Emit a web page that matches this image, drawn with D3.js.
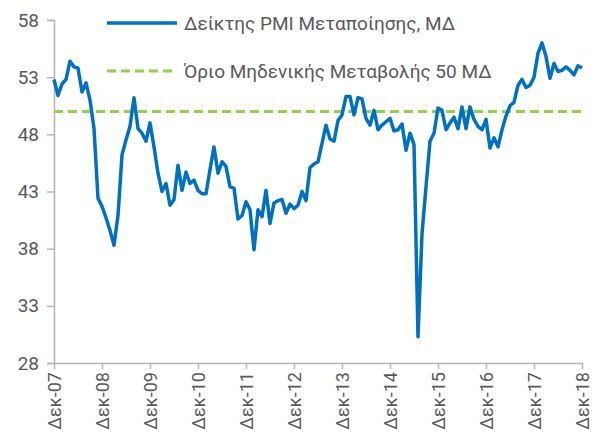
<!DOCTYPE html>
<html>
<head>
<meta charset="utf-8">
<script src="https://cdn.jsdelivr.net/npm/d3@7"></script>
<style>
  body { margin: 0; background: #fff; }
  text { font-family: Roboto, "Liberation Sans", sans-serif; fill: #595959; }
</style>
</head>
<body>
<svg width="596" height="433"></svg>
<script>
// monthly PMI, Dec 2007 .. Dec 2018
var pmi = [
  52.8, 51.4, 52.4, 52.8, 54.4, 53.9, 53.8, 51.7, 52.5, 51.0, 48.5, 42.4,
  41.7, 40.7, 39.6, 38.3, 40.9, 46.2, 47.5, 48.7, 51.2, 48.5, 48.1, 47.4,
  49.0, 46.9, 44.6, 43.0, 43.7, 41.8, 42.3, 45.3, 43.1, 44.7, 43.7, 44.0,
  43.1, 42.8, 42.8, 44.9, 46.9, 44.6, 45.6, 45.2, 43.4, 43.3, 40.6, 40.9,
  42.1, 41.4, 37.9, 41.4, 40.8, 43.1, 40.2, 42.0, 42.2, 42.3, 41.1, 41.9,
  41.5, 41.8, 43.0, 42.2, 45.1, 45.4, 45.6, 47.2, 48.8, 47.6, 47.4, 49.2,
  49.7, 51.3, 51.3, 49.7, 51.2, 51.1, 49.4, 48.8, 50.1, 48.4, 48.8, 49.1,
  49.4, 48.3, 48.4, 48.9, 46.6, 48.1, 47.1, 30.3, 39.3, 43.4, 47.4, 48.1,
  50.3, 50.1, 48.4, 49.0, 49.5, 48.5, 50.4, 48.5, 50.4, 49.3, 48.7, 48.4,
  49.3, 46.8, 47.7, 46.9, 48.4, 49.6, 50.5, 50.8, 52.3, 52.8, 52.1, 52.3,
  53.0, 55.1, 56.0, 54.8, 52.9, 54.2, 53.5, 53.6, 53.9, 53.6, 53.2, 54.0,
  53.8
]
var threshold = 50
var yTicks = [28, 33, 38, 43, 48, 53, 58]
var xLabels = ["Δεκ-07", "Δεκ-08", "Δεκ-09", "Δεκ-10", "Δεκ-11", "Δεκ-12",
               "Δεκ-13", "Δεκ-14", "Δεκ-15", "Δεκ-16", "Δεκ-17", "Δεκ-18"]
var legendNames = ["Δείκτης PMI Μεταποίησης, ΜΔ", "Όριο Μηδενικής Μεταβολής 50 ΜΔ"]

var blue = "#0070c0"
var green = "#92d050"
var axisGrey = "#b4b4b4"

var svg = d3.select("svg")

var xScale = d3.scaleLinear()
    .domain([0, pmi.length - 1])
    .range([54, 582])

var yScale = d3.scaleLinear()
    .domain([28, 58])
    .range([363, 20])

// y axis
var yAxis = d3.axisLeft(yScale)
    .tickValues(yTicks)
    .tickSize(7)
    .tickPadding(8)

var gy = svg.append("g")
    .attr("transform", "translate(54,0)")
    .call(yAxis)
gy.select(".domain").attr("stroke", axisGrey).attr("stroke-width", 1.5)
gy.selectAll(".tick line").attr("stroke", axisGrey).attr("stroke-width", 1.5)
gy.selectAll(".tick text")
    .style("font-size", "19px")
    .attr("fill", "#595959")

// x axis, one tick every December
var xAxis = d3.axisBottom(xScale)
    .tickValues(d3.range(0, pmi.length, 12))
    .tickFormat(function(d, i) { return xLabels[i] })
    .tickSize(6)
    .tickSizeOuter(0)

var gx = svg.append("g")
    .attr("transform", "translate(0,363)")
    .call(xAxis)
gx.select(".domain").attr("stroke", axisGrey).attr("stroke-width", 1.5)
gx.selectAll(".tick line").attr("stroke", axisGrey).attr("stroke-width", 1.5)
gx.selectAll(".tick text")
    .style("font-size", "18px")
    .attr("fill", "#595959")
    .attr("text-anchor", "end")
    .attr("transform", "rotate(-90)")
    .attr("x", -9)
    .attr("y", 0)
    .attr("dy", "0.35em")

// 50 line
svg.append("line")
    .attr("x1", xScale(0))
    .attr("x2", xScale(pmi.length - 1) + 2)
    .attr("y1", yScale(threshold))
    .attr("y2", yScale(threshold))
    .attr("stroke", green)
    .attr("stroke-width", 3)
    .attr("stroke-dasharray", "9,5")

// pmi line
var lineGenerator = d3.line()
    .x(function(d, i) { return xScale(i) })
    .y(function(d) { return yScale(d) })

svg.append("path")
    .datum(pmi)
    .attr("d", lineGenerator)
    .attr("fill", "none")
    .attr("stroke", blue)
    .attr("stroke-width", 3.5)
    .attr("stroke-linejoin", "round")

// legend
var legend = svg.append("g").attr("id", "legend")
var items = legend.selectAll("g")
    .data(legendNames)
    .enter()
    .append("g")
    .attr("transform", function(d, i) { return "translate(107," + (23 + i * 48) + ")" })

items.append("line")
    .attr("x1", 0).attr("x2", 70)
    .attr("stroke", function(d, i) { return i == 0 ? blue : green })
    .attr("stroke-width", function(d, i) { return i == 0 ? 3.5 : 3 })
    .attr("stroke-dasharray", function(d, i) { return i == 0 ? null : "9,5" })

items.append("text")
    .text(function(d) { return d })
    .attr("x", 77)
    .attr("dy", "0.35em")
    .style("font-size", "19px")
</script>
</body>
</html>
